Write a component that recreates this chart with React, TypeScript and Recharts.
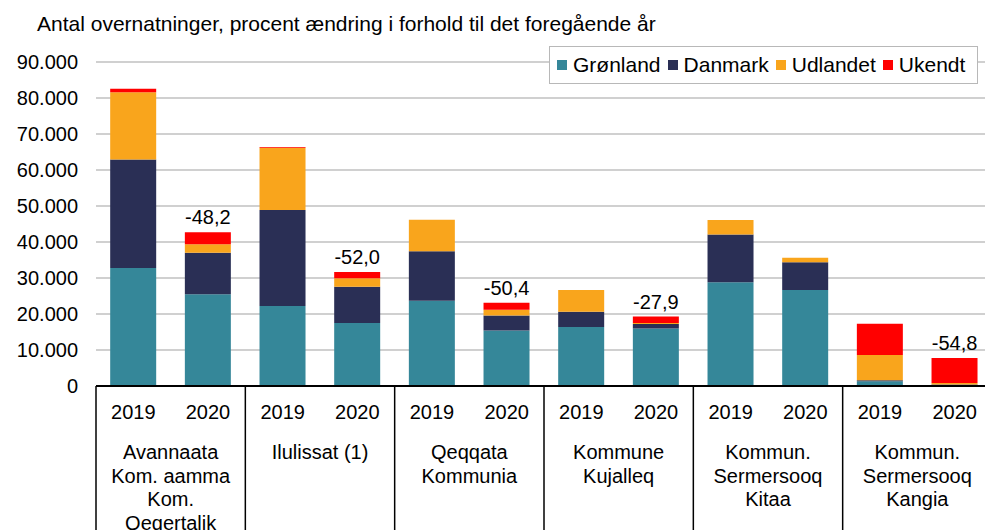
import React from 'react';
import {
  BarChart,
  Bar,
  XAxis,
  YAxis,
  CartesianGrid,
  Legend,
  LabelList,
} from 'recharts';

const groups = [
  ['Avannaata', 'Kom. aamma', 'Kom.', 'Qeqertalik'],
  ['Ilulissat (1)'],
  ['Qeqqata', 'Kommunia'],
  ['Kommune', 'Kujalleq'],
  ['Kommun.', 'Sermersooq', 'Kitaa'],
  ['Kommun.', 'Sermersooq', 'Kangia'],
];
const years = ['2019', '2020'];

// values per bar, order: group 1 2019, group 1 2020, group 2 2019, ...
const gronland = [32800, 25500, 22200, 17500, 23700, 15400, 16400, 16000, 28800, 26700, 1300, 300];
const danmark = [30100, 11500, 26700, 10100, 13700, 4200, 4200, 1200, 13300, 7700, 300, 100];
const udlandet = [18700, 2400, 17300, 2300, 8800, 1600, 6100, 300, 4000, 1200, 7000, 400];
const ukendt = [1000, 3300, 200, 1800, 0, 1900, 0, 1800, 0, 0, 8700, 7000];

// procent ændring 2019 -> 2020
const changes = [-48.2, -52.0, -50.4, -27.9, -22.5, -54.8];

const yTicks = [0, 10000, 20000, 30000, 40000, 50000, 60000, 70000, 80000, 90000];

const series = [
  { key: 'gronland', name: 'Grønland', color: '#358799' },
  { key: 'danmark', name: 'Danmark', color: '#2a2f55' },
  { key: 'udlandet', name: 'Udlandet', color: '#f9a51c' },
  { key: 'ukendt', name: 'Ukendt', color: '#ff0000' },
];

const rows = gronland.map((_, i) => {
  const g = Math.floor(i / 2);
  const year = years[i % 2];
  return {
    id: `${g}-${year}`,
    year,
    group: g,
    gronland: gronland[i],
    danmark: danmark[i],
    udlandet: udlandet[i],
    ukendt: ukendt[i],
    change: year === '2020' ? changes[g] : null,
  };
});

const FONT = '"Liberation Sans", Arial, sans-serif';
const CHART_W = 1000;
const CHART_H = 530;
const LEFT = 96;
const RIGHT_MARGIN = 8;
const SLOT = (CHART_W - LEFT - RIGHT_MARGIN) / rows.length;
const AXIS_H = 144;

const fmtThousands = (v: number) =>
  String(v).replace(/\B(?=(\d{3})+(?!\d))/g, '.');

const fmtChange = (v: number) => v.toFixed(1).replace('.', ',');

function CategoryTick(props: any) {
  const { x, y, index } = props;
  const row = rows[index];
  if (!row) return null;
  const first = index % 2 === 0;
  const last = index === rows.length - 1;
  return (
    <g>
      <text x={x} y={y + 33} textAnchor="middle" fontSize={20} fontFamily={FONT} fill="#000">
        {row.year}
      </text>
      {first && (
        <line x1={x - SLOT / 2} x2={x - SLOT / 2} y1={y} y2={y + AXIS_H} stroke="#000" strokeWidth={1.5} />
      )}
      {last && (
        <line x1={x + SLOT / 2} x2={x + SLOT / 2} y1={y} y2={y + AXIS_H} stroke="#000" strokeWidth={1.5} />
      )}
      {first &&
        groups[row.group].map((line, k) => (
          <text
            key={k}
            x={x + SLOT / 2}
            y={y + 73 + k * 23.6}
            textAnchor="middle"
            fontSize={20}
            fontFamily={FONT}
            fill="#000"
          >
            {line}
          </text>
        ))}
    </g>
  );
}

function ChangeLabel(props: any) {
  const { x, y, width, value } = props;
  if (value === null || value === undefined) return null;
  return (
    <text x={x + width / 2} y={y - 8} textAnchor="middle" fontSize={20} fontFamily={FONT} fill="#000">
      {fmtChange(value)}
    </text>
  );
}

function LegendBox() {
  return (
    <div
      style={{
        display: 'flex',
        alignItems: 'center',
        height: 36,
        padding: '0 12px 0 7px',
        background: '#fff',
        border: '1.5px solid #b8b8b8',
        fontFamily: FONT,
        fontSize: 21,
        color: '#000',
        whiteSpace: 'nowrap',
      }}
    >
      {series.map((s, i) => (
        <span key={s.key} style={{ display: 'flex', alignItems: 'center', marginLeft: i === 0 ? 0 : 7 }}>
          <span style={{ width: 10, height: 10, background: s.color, marginRight: 6, display: 'inline-block' }} />
          {s.name}
        </span>
      ))}
    </div>
  );
}

export default function App() {
  return (
    <div
      style={{
        position: 'absolute',
        left: 0,
        top: 0,
        width: 985,
        height: 530,
        overflow: 'hidden',
        background: '#fff',
      }}
    >
      <div
        style={{
          position: 'absolute',
          left: 37,
          top: 12,
          lineHeight: '24px',
          fontFamily: FONT,
          fontSize: 21,
          color: '#000',
          whiteSpace: 'nowrap',
          zIndex: 2,
        }}
      >
        Antal overnatninger, procent ændring i forhold til det foregående år
      </div>
      <BarChart
        width={CHART_W}
        height={CHART_H}
        data={rows}
        margin={{ top: 62, right: RIGHT_MARGIN, left: 0, bottom: 0 }}
        barCategoryGap="19%"
      >
        <CartesianGrid vertical={false} stroke="#c0c0c0" strokeWidth={1.5} />
        <XAxis
          dataKey="id"
          height={AXIS_H}
          tickLine={false}
          tickSize={0}
          tickMargin={0}
          interval={0}
          axisLine={{ stroke: '#000', strokeWidth: 2 }}
          tick={<CategoryTick />}
        />
        <YAxis
          width={LEFT}
          domain={[0, 90000]}
          ticks={yTicks}
          axisLine={false}
          tickLine={false}
          tickSize={0}
          tickMargin={18}
          tickFormatter={fmtThousands}
          tick={{ fill: '#000', fontSize: 20, fontFamily: FONT }}
        />
        <Legend
          layout="vertical"
          align="center"
          verticalAlign="middle"
          wrapperStyle={{ left: 549, top: 46, width: 'auto' }}
          content={() => <LegendBox />}
        />
        {series.map((s) => (
          <Bar
            key={s.key}
            dataKey={s.key}
            name={s.name}
            stackId="a"
            fill={s.color}
            isAnimationActive={false}
          >
            {s.key === 'ukendt' && <LabelList dataKey="change" content={<ChangeLabel />} />}
          </Bar>
        ))}
      </BarChart>
    </div>
  );
}
